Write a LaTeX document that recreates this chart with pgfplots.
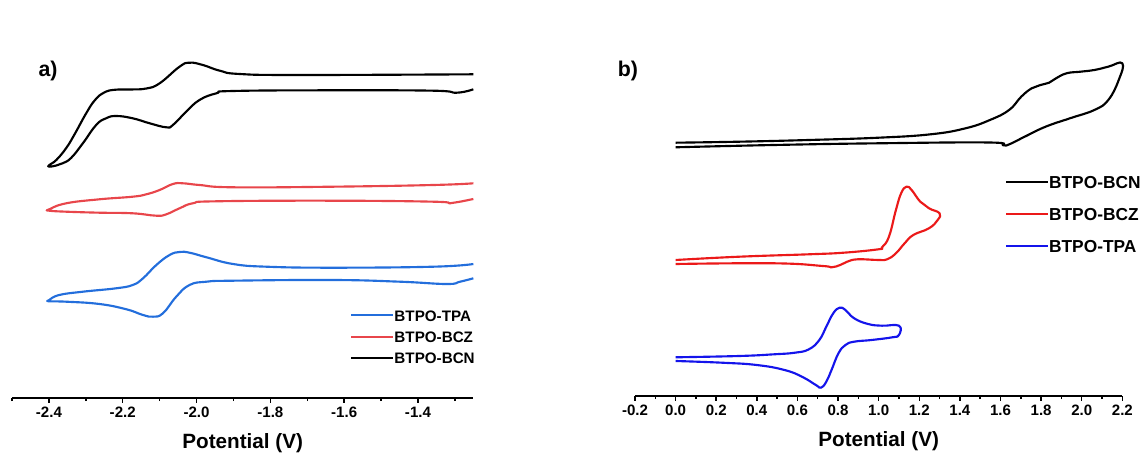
\documentclass[border=0pt]{standalone}
\usepackage{fontspec}
\setmainfont{Liberation Sans}
\usepackage{pgfplots}
\pgfplotsset{compat=1.18}

\definecolor{lblue}{RGB}{35,110,220}
\definecolor{lred}{RGB}{232,70,75}
\definecolor{rblue}{RGB}{20,20,235}
\definecolor{rred}{RGB}{235,25,25}

\pgfplotsset{
  cvaxis/.style={
    scale only axis, anchor=south west, clip=false,
    axis x line=bottom, axis y line=none,
    axis line style={line width=1.3pt,-},
    ytick=\empty,
    tick align=outside,
    major tick length=3.4pt, minor tick length=2.4pt,
    tick style={black, line width=1.1pt},
    xticklabel style={font=\bfseries\fontsize{11.3}{13}\selectfont,
      /pgf/number format/.cd, fixed, fixed zerofill, precision=1, assume math mode=true},
    xlabel style={font=\bfseries\fontsize{15.5}{17}\selectfont,
      at={(axis description cs:0.5,0)}, anchor=center, yshift=-33.75pt},
    legend cell align=left,
    legend image code/.code={\draw[##1] (0pt,0pt) -- (31.5pt,0pt);},
    every axis plot/.append style={line width=1.6pt, smooth, tension=0.75,
      line join=round, no markers},
  }
}

\begin{document}
\begin{tikzpicture}
\useasboundingbox (0,0) rectangle (858.75pt,342pt);

% (a) reduction scans
\begin{axis}[cvaxis,
  at={(9pt,43.5pt)}, width=346pt, height=298.5pt,
  xmin=-2.5, xmax=-1.25, ymin=0, ymax=398,
  xtick={-2.4,-2.2,-2.0,-1.8,-1.6,-1.4},
  minor xtick={-2.5,-2.3,-2.1,-1.9,-1.7,-1.5,-1.3},
  xlabel={Potential (V)},
  legend style={at={(axis cs:-1.5832,88.3)}, anchor=north west, draw=none, fill=none,
    inner sep=0pt, outer sep=0pt, row sep=7.6pt,
    font=\bfseries\fontsize{11.4}{13}\selectfont,
    nodes={inner sep=0pt, text height=8.5pt, text depth=0pt},
    /tikz/every even column/.append style={column sep=4.5pt}},
]
\addplot[lblue] coordinates {
  (-1.25,134) (-1.358,131.3) (-1.630,130.3) (-1.811,131.3) (-1.901,134) (-1.973,140.7)
  (-2.019,145.3) (-2.046,146) (-2.073,143) (-2.109,133) (-2.145,119.7) (-2.173,113)
  (-2.218,109.7) (-2.308,106.3) (-2.372,103) (-2.399,98)
  (-2.399,96.7) (-2.353,96.3) (-2.263,94) (-2.190,88.7) (-2.145,83) (-2.118,81.3)
  (-2.091,84.7) (-2.055,101.3) (-2.019,113) (-1.973,116.3) (-1.901,117.3) (-1.630,118)
  (-1.449,116.3) (-1.322,114) (-1.286,116.3) (-1.25,119.7)
};
\addlegendentry{BTPO-TPA}
\addplot[lred] coordinates {
  (-1.25,214.7) (-1.358,213) (-1.630,211.3) (-1.901,210.7) (-1.992,213) (-2.037,214.7)
  (-2.064,214) (-2.100,208) (-2.136,203.7) (-2.173,201.3) (-2.263,198.7) (-2.353,194.7)
  (-2.399,188.7)
  (-2.399,187.3) (-2.353,186.3) (-2.263,185.3) (-2.173,184.7) (-2.109,182.3) (-2.082,183.7)
  (-2.046,189.7) (-2.010,194.7) (-1.946,196.7) (-1.630,197.3) (-1.358,196.3) (-1.313,194.7)
  (-1.286,196.3) (-1.25,199)
};
\addlegendentry{BTPO-BCZ}
\addplot[black] coordinates {
  (-1.25,323.7) (-1.720,323) (-1.883,324) (-1.937,327.3) (-1.983,333) (-2.019,335.3)
  (-2.046,331.3) (-2.100,314.7) (-2.136,309.5) (-2.180,308.5) (-2.222,308.2) (-2.250,305.5)
  (-2.275,298) (-2.299,284.7) (-2.330,264) (-2.353,250) (-2.380,238) (-2.399,233)
  (-2.399,231.3) (-2.380,232.5) (-2.363,234.7) (-2.340,240) (-2.308,254.7) (-2.272,273)
  (-2.245,279.7) (-2.218,282) (-2.173,279.7) (-2.127,274.7) (-2.082,270.7) (-2.064,273)
  (-2.028,286.3) (-1.992,298) (-1.946,304.7) (-1.901,307) (-1.630,307.7) (-1.358,307.3)
  (-1.295,305.3) (-1.25,308.7)
};
\addlegendentry{BTPO-BCN}
\end{axis}

% (b) oxidation scans
\begin{axis}[cvaxis,
  at={(476.25pt,45pt)}, width=365.5pt, height=297pt,
  xmin=-0.2, xmax=2.2, ymin=0, ymax=396,
  xtick={-0.2,0,0.2,0.4,0.6,0.8,1.0,1.2,1.4,1.6,1.8,2.0,2.2},
  minor xtick={-0.1,0.1,0.3,0.5,0.7,0.9,1.1,1.3,1.5,1.7,1.9,2.1},
  xlabel={Potential (V)},
  legend style={at={(axis cs:1.622,220.3)}, anchor=north west, draw=none, fill=none,
    inner sep=0pt, outer sep=0pt, row sep=14.5pt,
    font=\bfseries\fontsize{13}{15}\selectfont,
    nodes={inner sep=0pt, text height=9.5pt, text depth=0pt},
    /tikz/every even column/.append style={column sep=3pt}},
]
\addplot[black] coordinates {
  (0,253.3) (0.3135,254.3) (0.6563,256) (0.9992,258.3) (1.2564,261.7) (1.4278,267.7)
  (1.5478,276) (1.6421,286) (1.7021,299.3) (1.7536,307.7) (1.7964,311) (1.8393,313.3)
  (1.8736,317.7) (1.925,322.7) (1.9936,324.3) (2.0621,326) (2.1307,329.3) (2.2,332.7)
  (2.1822,316) (2.1307,296) (2.0621,286) (1.9421,277.7) (1.8221,269.3) (1.7192,259.3)
  (1.6435,251.7) (1.6121,250.8) (1.5435,253.5) (0.9992,252.7) (0.4849,251) (0,248.7)
};
\addlegendentry{BTPO-BCN}
\addplot[rred] coordinates {
  (0,136) (0.3135,139.3) (0.6563,141.7) (0.8278,143.3) (0.9992,146.7) (1.0164,148.7)
  (1.0506,159.3) (1.0849,186) (1.1106,202.7) (1.1364,209.3) (1.1621,206) (1.2049,194.3)
  (1.2478,187.7) (1.3,182.7)
  (1.2906,176) (1.2478,167.7) (1.1706,161) (1.1278,152.7) (1.0849,142.7) (1.0421,136.7)
  (0.9992,136) (0.8963,136.7) (0.8449,134.3) (0.8106,131) (0.7678,128.7) (0.7249,130)
  (0.4849,132.7) (0,132)
};
\addlegendentry{BTPO-BCZ}
\addplot[rblue] coordinates {
  (0,38.7) (0.3135,40) (0.4849,41.7) (0.5878,43.3) (0.6563,46.7) (0.7078,56) (0.742,69.3)
  (0.7763,82.7) (0.8072,88.3) (0.8363,86) (0.8792,77.7) (0.9478,72) (1.0164,70.3) (1.1,70.3)
  (1.1,61) (1.0678,58.7) (0.9649,56) (0.8792,54.3) (0.8363,51) (0.802,42.7) (0.7678,26)
  (0.742,14.3) (0.7163,8.3) (0.6906,11) (0.622,19.3) (0.5363,26) (0.3992,31) (0.2277,33.3)
  (0,35)
};
\addlegendentry{BTPO-TPA}
\end{axis}

\node[font=\bfseries\fontsize{16}{18}\selectfont] at (36pt,288.75pt) {a)};
\node[font=\bfseries\fontsize{16}{18}\selectfont] at (471pt,288.75pt) {b)};
\end{tikzpicture}
\end{document}
